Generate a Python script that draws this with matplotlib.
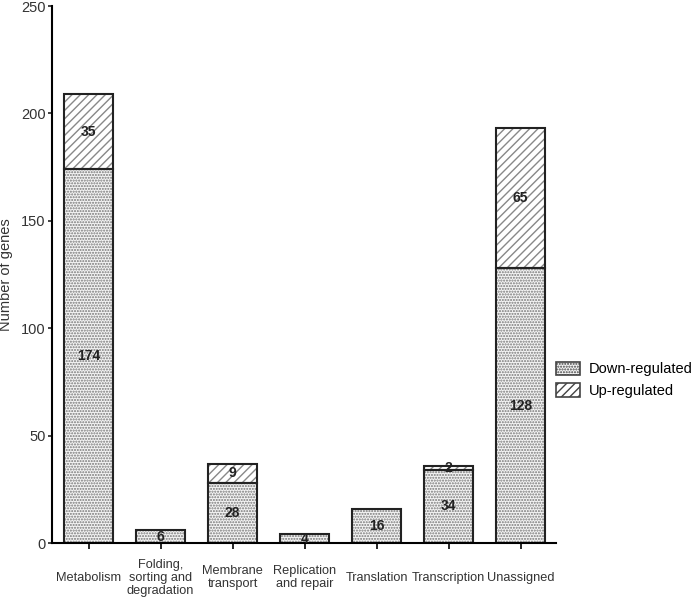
import numpy as np
import matplotlib.pyplot as plt
from matplotlib.patches import Patch

plt.rcParams["font.family"] = ["Liberation Sans", "DejaVu Sans"]
plt.rcParams["hatch.linewidth"] = 1.0

categories = ["Metabolism", "Folding,\nsorting and\ndegradation", "Membrane\ntransport",
              "Replication\nand repair", "Translation", "Transcription", "Unassigned"]
down = [174, 6, 28, 4, 16, 34, 128]
up = [35, 0, 9, 0, 0, 2, 65]

x = np.arange(len(categories))
w = 0.68

fig = plt.figure(figsize=(7, 6.01), dpi=100)
ax = fig.add_axes([0.074, 0.0965, 0.72, 0.8935])

# hatched fills (grey pattern), then black outlines on top
ax.bar(x, down, w, color="#f4f4f4", edgecolor="#777777", hatch="......", linewidth=0)
ax.bar(x, up, w, bottom=down, color="white", edgecolor="#888888", hatch="////", linewidth=0)
ax.bar(x, down, w, fill=False, edgecolor="#222222", linewidth=1.5)
up_x = [xi for xi, u in zip(x, up) if u > 0]
up_v = [u for u in up if u > 0]
up_b = [d for d, u in zip(down, up) if u > 0]
ax.bar(up_x, up_v, w, bottom=up_b, fill=False, edgecolor="#222222", linewidth=1.5)

for xi, d, u in zip(x, down, up):
    ax.text(xi, d / 2, str(d), ha="center", va="center", fontsize=10, fontweight="bold", color="#222222")
    if u > 0:
        ax.text(xi, d + u / 2, str(u), ha="center", va="center", fontsize=10, fontweight="bold", color="#222222")

ax.set_xlim(-0.51, 6.49)
ax.set_ylim(0, 250)
ax.set_yticks([0, 50, 100, 150, 200, 250])
ax.set_xticks(x)
ax.set_xticklabels(categories, fontsize=9.2, color="#333333", linespacing=1.1)
for lab in ax.get_xticklabels():
    lab.set_va("center")
ax.tick_params(axis="x", length=4, width=1.2, pad=21)
ax.tick_params(axis="y", length=3, width=1.2, pad=1.5, labelsize=10.5, colors="#222222", labelcolor="#333333")
ax.spines["top"].set_visible(False)
ax.spines["right"].set_visible(False)
ax.spines["left"].set_linewidth(1.5)
ax.spines["bottom"].set_linewidth(1.5)
ax.set_ylabel("Number of genes", fontsize=10.5, color="#333333")
ax.yaxis.set_label_coords(-0.076, 0.5)

handles = [Patch(facecolor="#f4f4f4", edgecolor="#444444", hatch="......", linewidth=1.2, label="Down-regulated"),
           Patch(facecolor="white", edgecolor="#444444", hatch="////", linewidth=1.2, label="Up-regulated")]
fig.legend(handles=handles, loc="center left", bbox_to_anchor=(0.776, 0.368), frameon=False,
           fontsize=10.5, handlelength=1.6, handleheight=1.0, handletextpad=0.6, labelspacing=0.5)

fig.savefig("out.png", dpi=100)
